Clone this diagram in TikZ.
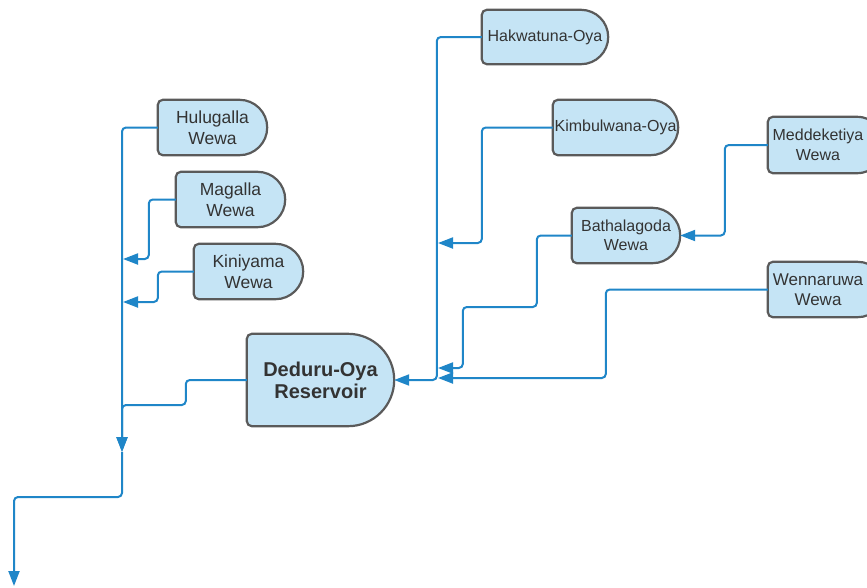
\documentclass[tikz,border=0pt]{standalone}
\usepackage{fontspec}
\setmainfont{Liberation Sans}
\usetikzlibrary{arrows.meta,backgrounds,calc}

\definecolor{boxfill}{HTML}{C5E4F5}
\definecolor{boxedge}{HTML}{5A5A5A}
\definecolor{flow}{HTML}{1F86C8}
\definecolor{ink}{HTML}{333333}

\tikzset{
  wewa/.style={inner sep=0pt, align=center, text=ink,
    font=\fontsize{17.5}{21}\selectfont},
  stream/.style={wewa, font=\fontsize{16}{19.5}\selectfont},
  reservoir/.style={wewa, font=\fontsize{20}{22}\selectfont\bfseries},
  outline/.style={fill=boxfill, draw=boxedge, line width=2.2pt},
  flowline/.style={draw=flow, line width=2pt, rounded corners=4pt},
  feeds/.style={flowline, -{Triangle[length=15pt,width=11pt]}},
}

% Delay-shaped outline behind a node: flat left side with small rounded
% corners, half-circle on the right. Optional argument widens it rightwards.
\newcommand\delayoutline[2][0pt]{%
  \path[outline] let \p1=(#2.north west), \p2=(#2.south east),
    \n1={(\y1-\y2)/2}, \n2={\x2+#1} in
    (\x1+5pt,\y1) -- (\n2-\n1,\y1)
    arc[start angle=90, end angle=-90, radius=\n1]
    -- (\x1+5pt,\y2) arc[start angle=270, end angle=180, radius=5pt]
    -- (\x1,\y1-5pt) arc[start angle=180, end angle=90, radius=5pt]
    -- cycle;}

\begin{document}
\begin{tikzpicture}[x=1pt,y=1pt]
\useasboundingbox (0,0) rectangle (867,-587);
\clip (0,0) rectangle (867,-587);

% tanks and streams
\node[wewa, minimum width=109pt, minimum height=55pt] (hul) at (212.5,-127.5) {Hulugalla\\Wewa};
\node[wewa, minimum width=109pt, minimum height=55pt] (mag) at (230.5,-199.5) {Magalla\\Wewa};
\node[wewa, minimum width=109pt, minimum height=55pt] (kin) at (248.5,-271.5) {Kiniyama\\Wewa};
\node[reservoir, minimum width=147pt, minimum height=92pt] (ded) at (320.5,-380) {Deduru-Oya\\Reservoir};
\node[stream, minimum width=126pt, minimum height=54pt] (hak) at (545,-37) {Hakwatuna-Oya};
\node[stream, minimum width=125pt, minimum height=55pt] (kim) at (615.5,-127.5) {Kimbulwana-Oya};
\node[stream, minimum width=108pt, minimum height=55pt] (bat) at (626,-235.5) {Bathalagoda\\Wewa};
\node[stream, minimum width=100pt, minimum height=56pt] (med) at (818,-145) {Meddeketiya\\Wewa};
\node[wewa, font=\fontsize{17}{20.5}\selectfont, minimum width=100pt, minimum height=55pt] (wen) at (818,-289.5) {Wennaruwa\\Wewa};

\begin{pgfonlayer}{background}
  \delayoutline{hul}
  \delayoutline{mag}
  \delayoutline{kin}
  \delayoutline{ded}
  \delayoutline{hak}
  \delayoutline{kim}
  \delayoutline{bat}
  \delayoutline[17pt]{med}
  \delayoutline[17pt]{wen}
\end{pgfonlayer}

% free ends on the trunk lines
\coordinate (j1) at (122,-452);
\coordinate (d1) at (122,-405);
\coordinate (m1) at (123,-259);
\coordinate (k1) at (123,-302);
\coordinate (sea) at (14,-586);
\coordinate (ki1) at (438,-243);
\coordinate (b1) at (438,-368);
\coordinate (w1) at (438,-378);

% western outflow
\draw[feeds] (hul.west) -| (j1);
\draw[feeds] (mag.west) -- ++(-27,0) |- (m1);
\draw[feeds] (kin.west) -- ++(-36,0) |- (k1);
\draw[feeds] (ded.west) -- ++(-61,0) |- (d1) -- (j1);
\draw[feeds] (j1) -- ++(0,-45) -| (sea);

% eastern inflow
\draw[feeds] (hak.west) -- ++(-45,0) |- (ded.east);
\draw[feeds] (kim.west) -- ++(-71,0) |- (ki1);
\draw[feeds] (bat.west) -- ++(-35,0) -- ++(0,-71.5) -- ++(-74,0) |- (b1);
\draw[feeds] (med.west) -- ++(-43,0) |- (bat.east);
\draw[feeds] (wen.west) -- ++(-162,0) |- (w1);
\end{tikzpicture}
\end{document}
